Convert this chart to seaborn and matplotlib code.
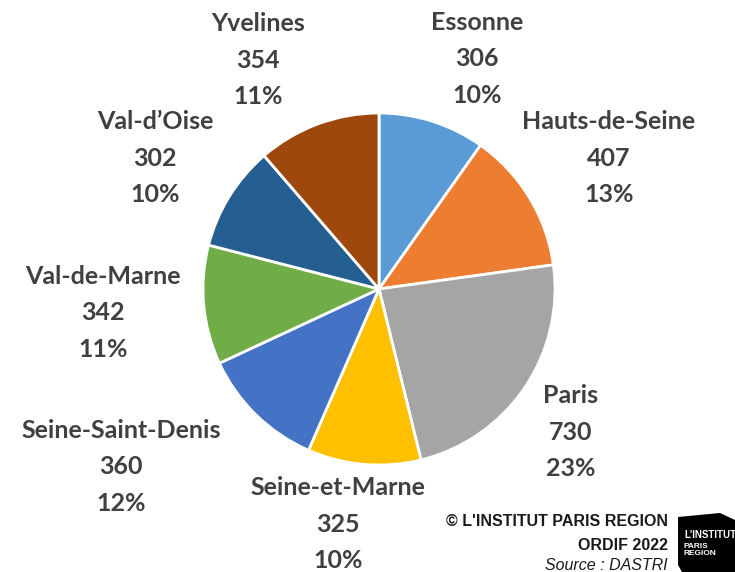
import matplotlib.pyplot as plt
import matplotlib.patches as mpatches
import seaborn as sns

sns.set_theme(style="white")
plt.rcParams['font.family'] = ['Lato', 'DejaVu Sans']

# data, clockwise from 12 o'clock
departements = ["Essonne", "Hauts-de-Seine", "Paris", "Seine-et-Marne",
                "Seine-Saint-Denis", "Val-de-Marne", "Val-d\u2019Oise", "Yvelines"]
valeurs = [306, 407, 730, 325, 360, 342, 302, 354]
pourcentages = ["10%", "13%", "23%", "10%", "12%", "11%", "10%", "11%"]
couleurs = ["#5B9BD5", "#ED7D31", "#A5A5A5", "#FFC000",
            "#4472C4", "#70AD47", "#255E91", "#9E480E"]

W, H = 735, 572
fig = plt.figure(figsize=(W / 100, H / 100), dpi=100)

# pie centre and radius in pixels
cx, cy, r = 379, 289, 176
ax = fig.add_axes([(cx - r) / W, (H - cy - r) / H, 2 * r / W, 2 * r / H])
ax.pie(valeurs, colors=couleurs, startangle=90, counterclock=False, radius=1,
       wedgeprops=dict(edgecolor="white", linewidth=2))
ax.set_xlim(-1, 1)
ax.set_ylim(-1, 1)
ax.set_aspect("equal")
ax.axis("off")

# label block centres (pixels from top-left)
label_pos = [(477, 59), (609, 158), (571, 432), (338, 524),
             (121, 467), (103, 313), (155, 158), (258, 60)]
for name, v, p, (x, y) in zip(departements, valeurs, pourcentages, label_pos):
    fig.text(x / W, 1 - y / H, f"{name}\n{v}\n{p}", ha="center", va="center",
             fontsize=18, fontweight="bold", color="#404040", linespacing=1.7)

# footer
foot = dict(ha="right", va="center", color="#1a1a1a", family="Liberation Sans")
fig.text(668 / W, 1 - 522 / H, "\u00a9 L'INSTITUT PARIS REGION", fontsize=11.5,
         fontweight="bold", **foot)
fig.text(668 / W, 1 - 545 / H, "ORDIF 2022", fontsize=11.5, fontweight="bold", **foot)
fig.text(668 / W, 1 - 565 / H, "Source : DASTRI", fontsize=11.5, style="italic", **foot)

# logo block
fig.patches.append(mpatches.Polygon(
    [(678 / W, 1 - 517 / H), (720 / W, 1 - 513 / H), (735 / W, 1 - 520 / H),
     (735 / W, 0), (682 / W, 0), (678 / W, 1 - 565 / H)],
    closed=True, transform=fig.transFigure, facecolor="black", edgecolor="none"))
fig.text(684 / W, 1 - 535 / H, "L'INSTITUT", fontsize=7, fontweight="bold",
         color="white", family="Liberation Sans", va="center")
fig.text(684 / W, 1 - 543 / H, "PARIS\nREGION", fontsize=6, fontweight="bold",
         color="white", family="Liberation Sans", va="top", linespacing=0.95)

fig.savefig("out.png", dpi=100)
